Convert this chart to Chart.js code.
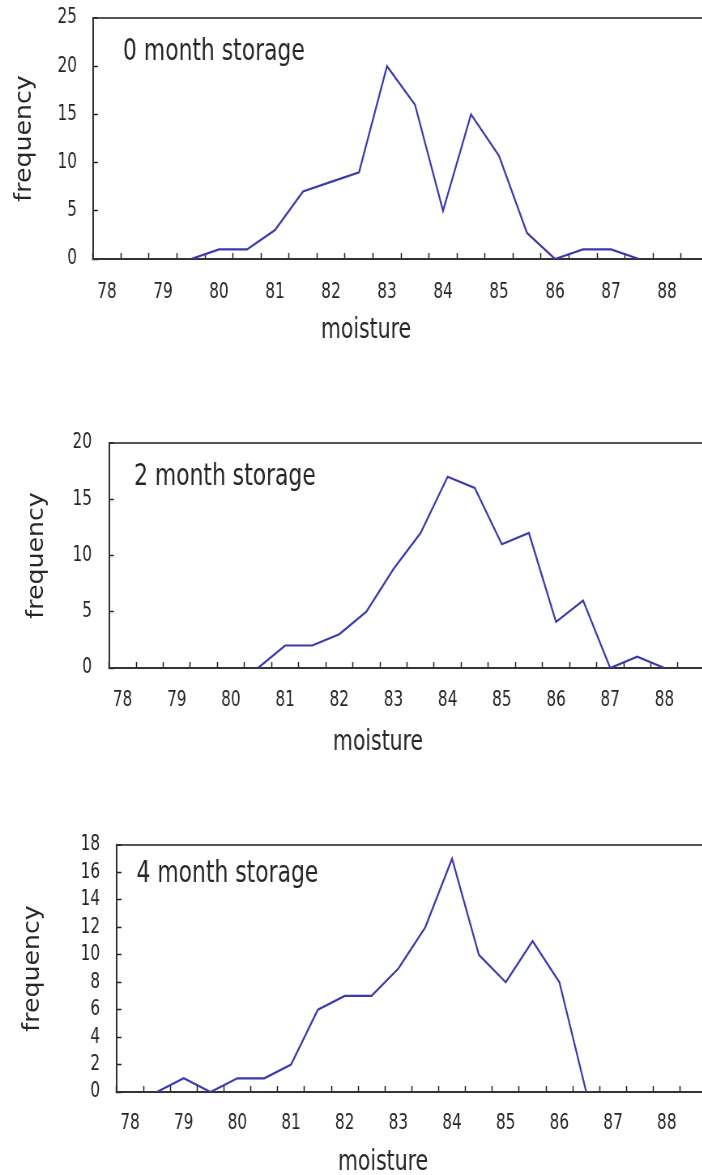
<!DOCTYPE html>
<html>
<head>
<meta charset="utf-8">
<title>Moisture frequency by storage time</title>
<script src="https://cdn.jsdelivr.net/npm/chart.js@4.4.1/dist/chart.umd.min.js"></script>
<style>
  html, body { margin: 0; padding: 0; background: #fff; overflow: hidden; }
  body { width: 702px; height: 1175px; position: relative; }
  /* canvases are drawn wide and squeezed so the lettering comes out narrow */
  canvas { position: absolute; left: 0; transform: scaleX(0.81); transform-origin: 0 0; }
</style>
</head>
<body>
<canvas id="chart-0" width="889" height="350" style="top:0"></canvas>
<canvas id="chart-2" width="889" height="335" style="top:425px"></canvas>
<canvas id="chart-4" width="889" height="348" style="top:827px"></canvas>
<script>
// moisture classes (half-unit steps), one category each
var MOISTURE = [78, 78.5, 79, 79.5, 80, 80.5, 81, 81.5, 82, 82.5, 83,
                83.5, 84, 84.5, 85, 85.5, 86, 86.5, 87, 87.5, 88, 88.5];

// frequency per moisture class; null = no sample in that class
var FREQ_0_MONTH = [null, null, null, 0, 1, 1, 3, 7, 8, 9, 20,
                    16, 5, 15, 10.7, 2.7, 0, 1, 1, 0, null, null];
var FREQ_2_MONTH = [null, null, null, null, null, 0, 2, 2, 3, 5, 8.8,
                    12, 17, 16, 11, 12, 4.1, 6, 0, 1, 0, null];
var FREQ_4_MONTH = [null, 0, 1, 0, 1, 1, 2, 6, 7, 7, 9,
                    12, 17, 10, 8, 11, 8, 0, null, null, null, null];

var CAPTIONS = ["0 month storage", "2 month storage", "4 month storage"];
var X_TITLE = "moisture";
var Y_TITLE = "frequency";

var SX = 0.81;          // horizontal squeeze applied by the css transform
var CANVAS_W = 889;
var FONT_FAMILY = "'DejaVu Sans Condensed', 'DejaVu Sans', sans-serif";
var TEXT_COLOR = "#262626";
var AXIS_COLOR = "#333333";
var LINE_COLOR = "rgb(58, 58, 172)";
var TICK_FONT = 21;
var TITLE_FONT = 28;
var CAPTION_FONT = 30;

Chart.defaults.font.family = FONT_FAMILY;
Chart.defaults.color = TEXT_COLOR;

// panel geometry in screen pixels (x) / canvas pixels (y)
var PANELS = [
  { id: "chart-0", values: FREQ_0_MONTH, caption: CAPTIONS[0], yMax: 25, yStep: 5,
    plotLeft: 93, plotRight: 709, axisHeight: 91, labelRight: 77, yTitleX: 25, xTickPad: 27,
    captionX: 123, captionY: 42, xTitleX: 366, xTitleY: 79 },
  { id: "chart-2", values: FREQ_2_MONTH, caption: CAPTIONS[1], yMax: 20, yStep: 5,
    plotLeft: 109, plotRight: 705, axisHeight: 92, labelRight: 92, yTitleX: 37, xTickPad: 26,
    captionX: 134, captionY: 42, xTitleX: 378, xTitleY: 82 },
  { id: "chart-4", values: FREQ_4_MONTH, caption: CAPTIONS[2], yMax: 18, yStep: 2,
    plotLeft: 116.6, plotRight: 707, axisHeight: 83, labelRight: 100, yTitleX: 33, xTickPad: 25,
    captionX: 136.5, captionY: 37, xTitleX: 383, xTitleY: 78 }
];

// caption inside the plot and the x-axis title under it
var panelText = {
  id: "panelText",
  afterDraw: function (chart, args, opts) {
    var ctx = chart.ctx;
    var area = chart.chartArea;
    ctx.save();
    ctx.fillStyle = TEXT_COLOR;
    ctx.textBaseline = "alphabetic";
    ctx.font = CAPTION_FONT + "px " + FONT_FAMILY;
    ctx.textAlign = "left";
    ctx.fillText(opts.caption, opts.captionX / SX, area.top + opts.captionY);
    ctx.font = TITLE_FONT + "px " + FONT_FAMILY;
    ctx.textAlign = "center";
    ctx.fillText(opts.xTitle, opts.xTitleX / SX, area.bottom + opts.xTitleY);
    ctx.restore();
  }
};

function buildPanel(panel) {
  var axisWidth = panel.plotLeft / SX;
  var yTickLen = -6;
  return {
    type: "line",
    data: {
      labels: MOISTURE.map(String),
      datasets: [
        {
          label: Y_TITLE,
          data: panel.values,
          borderColor: LINE_COLOR,
          borderWidth: 2.2,
          pointRadius: 0,
          tension: 0,
          spanGaps: false,
          fill: false,
        },
      ],
    },
    options: {
      responsive: false,
      animation: false,
      layout: { padding: { top: 18, right: CANVAS_W - panel.plotRight / SX, bottom: 0, left: 0 } },
      plugins: {
        legend: { display: false },
        tooltip: { enabled: false },
        panelText: {
          caption: panel.caption,
          xTitle: X_TITLE,
          captionX: panel.captionX,
          captionY: panel.captionY,
          xTitleX: panel.xTitleX,
          xTitleY: panel.xTitleY,
        },
      },
      scales: {
        x: {
          type: "category",
          offset: true,
          afterFit: function (scale) { scale.height = panel.axisHeight; },
          border: { display: true, color: AXIS_COLOR, width: 2 },
          grid: {
            offset: true,
            drawOnChartArea: false,
            tickColor: "#222",
            tickWidth: 1.5,
            tickLength: -6,
          },
          ticks: {
            autoSkip: false,
            maxRotation: 0,
            padding: panel.xTickPad,
            font: { size: TICK_FONT },
            callback: function (value, index) {
              var m = MOISTURE[index];
              return Number.isInteger(m) ? String(m) : "";
            },
          },
        },
        y: {
          min: 0,
          max: panel.yMax,
          afterFit: function (scale) {
            scale.width = axisWidth;
            scale.paddingTop = 0;
            scale.paddingBottom = 0;
          },
          border: { display: true, color: AXIS_COLOR, width: 2 },
          grid: {
            drawOnChartArea: true,
            color: function (c) { return c.tick && c.tick.value === panel.yMax ? "#555" : "rgba(0,0,0,0)"; },
            lineWidth: function (c) { return c.tick && c.tick.value === panel.yMax ? 2 : 1; },
            tickColor: "#222",
            tickWidth: 1.5,
            tickLength: yTickLen,
          },
          ticks: {
            autoSkip: false,
            stepSize: panel.yStep,
            padding: (panel.plotLeft - panel.labelRight) / SX - yTickLen,
            font: { size: TICK_FONT },
          },
          title: {
            display: true,
            text: Y_TITLE,
            font: { size: TITLE_FONT },
            padding: { top: panel.yTitleX / SX - TITLE_FONT * 0.6, bottom: 0 },
          },
        },
      },
    },
    plugins: [panelText],
  };
}

PANELS.forEach(function (panel) {
  var el = document.getElementById(panel.id);
  if (el) new Chart(el, buildPanel(panel));
});
</script>
</body>
</html>
